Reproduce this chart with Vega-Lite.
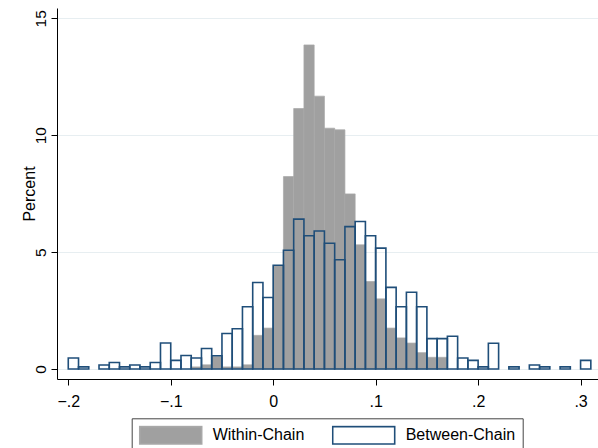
{
  "$schema": "https://vega.github.io/schema/vega-lite/v6.json",
  "width": 541,
  "height": 371,
  "autosize": {"type": "none"},
  "padding": {"left": 57, "top": 8, "right": 0, "bottom": 69},
  "background": "white",
  "config": {
    "view": {"stroke": null},
    "font": "Liberation Sans",
    "axis": {"labelFont": "Liberation Sans", "titleFont": "Liberation Sans", "labelColor": "black", "titleColor": "black", "domainColor": "black", "tickColor": "black", "tickSize": 6, "domainWidth": 1, "tickWidth": 1},
    "legend": {"labelFont": "Liberation Sans"}
  },
  "data": {
    "values": [
      {"series": "Within-Chain", "start": -0.08, "end": -0.07, "pct": 0.09},
      {"series": "Within-Chain", "start": -0.07, "end": -0.06, "pct": 0.18},
      {"series": "Within-Chain", "start": -0.06, "end": -0.05, "pct": 0.53},
      {"series": "Within-Chain", "start": -0.05, "end": -0.04, "pct": 0.09},
      {"series": "Within-Chain", "start": -0.04, "end": -0.03, "pct": 0.09},
      {"series": "Within-Chain", "start": -0.03, "end": -0.02, "pct": 0.18},
      {"series": "Within-Chain", "start": -0.02, "end": -0.01, "pct": 1.44},
      {"series": "Within-Chain", "start": -0.01, "end": 0.0, "pct": 1.75},
      {"series": "Within-Chain", "start": 0.0, "end": 0.01, "pct": 4.42},
      {"series": "Within-Chain", "start": 0.01, "end": 0.02, "pct": 8.23},
      {"series": "Within-Chain", "start": 0.02, "end": 0.03, "pct": 11.14},
      {"series": "Within-Chain", "start": 0.03, "end": 0.04, "pct": 13.86},
      {"series": "Within-Chain", "start": 0.04, "end": 0.05, "pct": 11.67},
      {"series": "Within-Chain", "start": 0.05, "end": 0.06, "pct": 10.3},
      {"series": "Within-Chain", "start": 0.06, "end": 0.07, "pct": 10.23},
      {"series": "Within-Chain", "start": 0.07, "end": 0.08, "pct": 7.49},
      {"series": "Within-Chain", "start": 0.08, "end": 0.09, "pct": 5.31},
      {"series": "Within-Chain", "start": 0.09, "end": 0.1, "pct": 3.74},
      {"series": "Within-Chain", "start": 0.1, "end": 0.11, "pct": 3.0},
      {"series": "Within-Chain", "start": 0.11, "end": 0.12, "pct": 1.75},
      {"series": "Within-Chain", "start": 0.12, "end": 0.13, "pct": 1.33},
      {"series": "Within-Chain", "start": 0.13, "end": 0.14, "pct": 1.11},
      {"series": "Within-Chain", "start": 0.14, "end": 0.15, "pct": 0.7},
      {"series": "Within-Chain", "start": 0.15, "end": 0.16, "pct": 0.5},
      {"series": "Within-Chain", "start": 0.16, "end": 0.17, "pct": 0.5},
      {"series": "Between-Chain", "start": -0.2, "end": -0.19, "pct": 0.47},
      {"series": "Between-Chain", "start": -0.19, "end": -0.18, "pct": 0.09},
      {"series": "Between-Chain", "start": -0.17, "end": -0.16, "pct": 0.17},
      {"series": "Between-Chain", "start": -0.16, "end": -0.15, "pct": 0.28},
      {"series": "Between-Chain", "start": -0.15, "end": -0.14, "pct": 0.09},
      {"series": "Between-Chain", "start": -0.14, "end": -0.13, "pct": 0.17},
      {"series": "Between-Chain", "start": -0.13, "end": -0.12, "pct": 0.09},
      {"series": "Between-Chain", "start": -0.12, "end": -0.11, "pct": 0.28},
      {"series": "Between-Chain", "start": -0.11, "end": -0.1, "pct": 1.11},
      {"series": "Between-Chain", "start": -0.1, "end": -0.09, "pct": 0.37},
      {"series": "Between-Chain", "start": -0.09, "end": -0.08, "pct": 0.58},
      {"series": "Between-Chain", "start": -0.08, "end": -0.07, "pct": 0.47},
      {"series": "Between-Chain", "start": -0.07, "end": -0.06, "pct": 0.88},
      {"series": "Between-Chain", "start": -0.06, "end": -0.05, "pct": 0.57},
      {"series": "Between-Chain", "start": -0.05, "end": -0.04, "pct": 1.52},
      {"series": "Between-Chain", "start": -0.04, "end": -0.03, "pct": 1.72},
      {"series": "Between-Chain", "start": -0.03, "end": -0.02, "pct": 2.66},
      {"series": "Between-Chain", "start": -0.02, "end": -0.01, "pct": 3.7},
      {"series": "Between-Chain", "start": -0.01, "end": 0.0, "pct": 3.06},
      {"series": "Between-Chain", "start": 0.0, "end": 0.01, "pct": 4.44},
      {"series": "Between-Chain", "start": 0.01, "end": 0.02, "pct": 5.08},
      {"series": "Between-Chain", "start": 0.02, "end": 0.03, "pct": 6.41},
      {"series": "Between-Chain", "start": 0.03, "end": 0.04, "pct": 5.7},
      {"series": "Between-Chain", "start": 0.04, "end": 0.05, "pct": 5.9},
      {"series": "Between-Chain", "start": 0.05, "end": 0.06, "pct": 5.38},
      {"series": "Between-Chain", "start": 0.06, "end": 0.07, "pct": 4.67},
      {"series": "Between-Chain", "start": 0.07, "end": 0.08, "pct": 6.09},
      {"series": "Between-Chain", "start": 0.08, "end": 0.09, "pct": 6.31},
      {"series": "Between-Chain", "start": 0.09, "end": 0.1, "pct": 5.7},
      {"series": "Between-Chain", "start": 0.1, "end": 0.11, "pct": 5.17},
      {"series": "Between-Chain", "start": 0.11, "end": 0.12, "pct": 3.49},
      {"series": "Between-Chain", "start": 0.12, "end": 0.13, "pct": 2.66},
      {"series": "Between-Chain", "start": 0.13, "end": 0.14, "pct": 3.28},
      {"series": "Between-Chain", "start": 0.14, "end": 0.15, "pct": 2.66},
      {"series": "Between-Chain", "start": 0.15, "end": 0.16, "pct": 1.3},
      {"series": "Between-Chain", "start": 0.16, "end": 0.17, "pct": 1.3},
      {"series": "Between-Chain", "start": 0.17, "end": 0.18, "pct": 1.4},
      {"series": "Between-Chain", "start": 0.18, "end": 0.19, "pct": 0.47},
      {"series": "Between-Chain", "start": 0.19, "end": 0.2, "pct": 0.37},
      {"series": "Between-Chain", "start": 0.2, "end": 0.21, "pct": 0.09},
      {"series": "Between-Chain", "start": 0.21, "end": 0.22, "pct": 1.1},
      {"series": "Between-Chain", "start": 0.23, "end": 0.24, "pct": 0.09},
      {"series": "Between-Chain", "start": 0.25, "end": 0.26, "pct": 0.17},
      {"series": "Between-Chain", "start": 0.26, "end": 0.27, "pct": 0.09},
      {"series": "Between-Chain", "start": 0.28, "end": 0.29, "pct": 0.09},
      {"series": "Between-Chain", "start": 0.3, "end": 0.31, "pct": 0.37}
    ]
  },
  "encoding": {
    "x": {
      "field": "start", "type": "quantitative",
      "scale": {"domain": [-0.211, 0.317], "nice": false, "zero": false},
      "axis": {
        "title": null, "grid": false,
        "values": [-0.2, -0.1, 0, 0.1, 0.2, 0.3],
        "labelExpr": "datum.value == 0 ? '0' : replace(format(datum.value, '.1f'), '0.', '.')",
        "labelFontSize": 16, "labelPadding": 8, "labelFlush": false
      }
    },
    "x2": {"field": "end"},
    "y": {
      "field": "pct", "type": "quantitative", "stack": null,
      "scale": {"domain": [-0.427, 15.44], "nice": false},
      "axis": {
        "title": "Percent", "titleFontSize": 16, "titleFontWeight": "normal", "titlePadding": -4,
        "values": [0, 5, 10, 15],
        "grid": true, "gridColor": "#e7eef1", "gridWidth": 1.2,
        "labelAngle": -90, "labelAlign": "center", "labelBaseline": "alphabetic",
        "labelFontSize": 15.5, "labelPadding": 6, "labelFlush": false
      }
    },
    "y2": {"datum": 0},
    "fill": {
      "field": "series", "type": "nominal",
      "scale": {"domain": ["Within-Chain", "Between-Chain"], "range": ["#a0a0a0", "transparent"]},
      "legend": {
        "title": null, "orient": "none", "legendX": 74.7, "legendY": 410.3,
        "direction": "horizontal",
        "symbolType": "M-1,-0.28H1V0.28H-1Z", "symbolSize": 3844, "clipHeight": 20,
        "symbolStrokeWidth": 1.6,
        "labelFontSize": 16, "labelOffset": 10, "columnPadding": 27,
        "padding": 7, "strokeColor": "#444444", "fillColor": "white"
      }
    },
    "stroke": {
      "field": "series", "type": "nominal",
      "scale": {"domain": ["Within-Chain", "Between-Chain"], "range": ["#a8a8a8", "#1f4e79"]},
      "legend": {
        "title": null, "orient": "none", "legendX": 74.7, "legendY": 410.3,
        "direction": "horizontal",
        "symbolType": "M-1,-0.28H1V0.28H-1Z", "symbolSize": 3844, "clipHeight": 20,
        "symbolStrokeWidth": 1.6,
        "labelFontSize": 16, "labelOffset": 10, "columnPadding": 27,
        "padding": 7, "strokeColor": "#444444", "fillColor": "white"
      }
    }
  },
  "layer": [
    {
      "transform": [{"filter": "datum.series == 'Within-Chain'"}],
      "mark": {"type": "bar", "strokeWidth": 0.7}
    },
    {
      "transform": [{"filter": "datum.series == 'Between-Chain'"}],
      "mark": {"type": "bar", "strokeWidth": 1.6}
    }
  ]
}
